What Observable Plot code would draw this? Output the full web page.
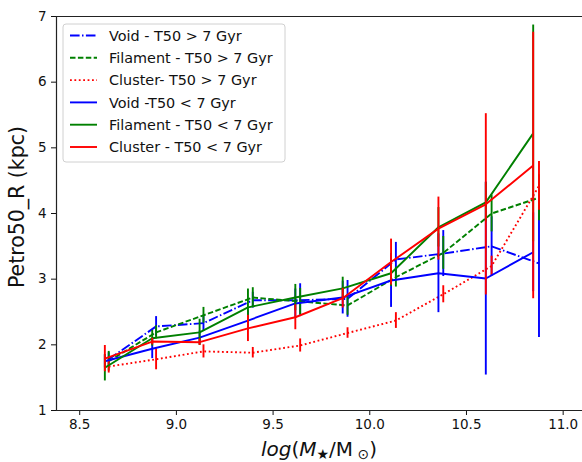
<!DOCTYPE html>
<html><head><meta charset="utf-8">
<script src="https://cdn.jsdelivr.net/npm/d3@7"></script>
<script src="https://cdn.jsdelivr.net/npm/@observablehq/plot@0.6"></script>
<style>body{margin:0;background:#fff} svg{display:block}</style>
</head><body><div id="chart"></div>
<script>
// x positions (log stellar mass bins); the T50 > 7 Gyr series sit slightly to the right
const massYoung = [8.63, 8.875, 9.12, 9.37, 9.615, 9.86, 10.11, 10.355, 10.60, 10.845];
const massOld   = [8.65, 8.895, 9.14, 9.395, 9.64, 9.885, 10.135, 10.38, 10.63, 10.875];

const voidOld      = [1.78, 2.28, 2.33, 2.68, 2.68, 2.70, 3.30, 3.39, 3.50, 3.24];
const voidOldErr   = [0.10, 0.15, 0.12, 0.12, 0.25, 0.28, 0.26, 0.35, 0.45, 1.13];
const filOld       = [1.75, 2.19, 2.45, 2.72, 2.66, 2.60, 3.03, 3.40, 4.00, 4.24];
const filOldErr    = [0.15, 0.10, 0.12, 0.15, 0.20, 0.15, 0.15, 0.25, 0.28, 0.35];
const cluOld       = [1.67, 1.78, 1.90, 1.88, 1.99, 2.18, 2.37, 2.77, 3.20, 4.42];
const cluOldErr    = [0.10, 0.16, 0.10, 0.08, 0.10, 0.08, 0.12, 0.13, 0.15, 0.37];
const voidYoung    = [1.75, 1.94, 2.11, 2.37, 2.63, 2.72, 2.98, 3.09, 3.01, 3.41];
const voidYoungErr = [0.10, 0.15, 0.10, 0.15, 0.22, 0.25, 0.41, 0.60, 1.47, 0.60];
const filYoung     = [1.65, 2.10, 2.19, 2.57, 2.72, 2.86, 3.09, 3.79, 4.17, 5.22];
const filYoungErr  = [0.20, 0.12, 0.20, 0.28, 0.20, 0.17, 0.20, 0.30, 0.30, 1.65];
const cluYoung     = [1.79, 2.05, 2.04, 2.25, 2.42, 2.71, 3.26, 3.77, 4.14, 4.73];
const cluYoungErr  = [0.20, 0.05, 0.05, 0.20, 0.19, 0.15, 0.35, 0.48, 1.38, 2.03];

const seriesNames = ["Void - T50 > 7 Gyr", "Filament - T50 > 7 Gyr", "Cluster- T50 > 7 Gyr",
                     "Void -T50 < 7 Gyr", "Filament - T50 < 7 Gyr", "Cluster - T50 < 7 Gyr"];
const xTicks = [8.5, 9.0, 9.5, 10.0, 10.5, 11.0];
const yTicks = [1, 2, 3, 4, 5, 6, 7];
const xDomain = [8.38, 11.10];
const yDomain = [1, 7];

const blue = "#0000ff", green = "#008000", red = "#ff0000";
const dashDot = "9.6,2.4,1.5,2.4", dashed = "5.5,2.4", dotted = "1.8,2.6";

const defs = [
  {name: seriesNames[0], x: massOld,   y: voidOld,   e: voidOldErr,   color: blue,  dash: dashDot},
  {name: seriesNames[1], x: massOld,   y: filOld,    e: filOldErr,    color: green, dash: dashed},
  {name: seriesNames[2], x: massOld,   y: cluOld,    e: cluOldErr,    color: red,   dash: dotted},
  {name: seriesNames[3], x: massYoung, y: voidYoung, e: voidYoungErr, color: blue,  dash: null},
  {name: seriesNames[4], x: massYoung, y: filYoung,  e: filYoungErr,  color: green, dash: null},
  {name: seriesNames[5], x: massYoung, y: cluYoung,  e: cluYoungErr,  color: red,   dash: null}
];

const marks = [];
for (const d of defs) {
  const rows = d.y.map((v, i) => ({x: d.x[i], y: v, lo: v - d.e[i], hi: v + d.e[i]}));
  marks.push(Plot.line(rows, {x: "x", y: "y", stroke: d.color, strokeWidth: 1.9,
    strokeDasharray: d.dash ?? undefined, strokeLinejoin: "round", strokeLinecap: "butt"}));
  marks.push(Plot.ruleX(rows, {x: "x", y1: "lo", y2: "hi", stroke: d.color, strokeWidth: 1.9}));
}

const chart = Plot.plot({
  width: 582, height: 462,
  marginLeft: 56, marginRight: 0, marginTop: 16, marginBottom: 52,
  style: {fontFamily: "DejaVu Sans", fontSize: "13.5px", color: "#111", background: "#fff"},
  x: {domain: xDomain, label: null},
  y: {domain: yDomain, label: null},
  marks: [
    Plot.axisX(xTicks, {tickSize: 5, tickPadding: 4, tickFormat: d3.format(".1f"), fontSize: 13.5, label: null}),
    Plot.axisY(yTicks, {tickSize: 5, tickPadding: 5, tickFormat: d3.format("d"), fontSize: 13.5, label: null}),
    ...marks,
    Plot.ruleX([xDomain[0]], {stroke: "#222", strokeWidth: 1.2}),
    Plot.ruleY(yDomain, {stroke: "#222", strokeWidth: 1.2})
  ]
});
document.getElementById("chart").appendChild(chart);

const svg = d3.select(chart);
// legend
const lg = svg.append("g").attr("font-family", "DejaVu Sans").attr("font-size", "14.4px")
  .attr("text-anchor", "start");
lg.append("rect").attr("x", 63).attr("y", 24).attr("width", 222).attr("height", 138)
  .attr("rx", 3).attr("fill", "#fff").attr("fill-opacity", 0.85).attr("stroke", "#d0d0d0");
defs.forEach((d, i) => {
  const yy = 35.5 + i * 22.3;
  lg.append("line").attr("x1", 70).attr("x2", 97).attr("y1", yy).attr("y2", yy)
    .attr("stroke", d.color).attr("stroke-width", 1.9).attr("stroke-dasharray", d.dash);
  lg.append("text").attr("x", 109).attr("y", yy).attr("dy", "0.36em").attr("fill", "#111")
    .attr("text-anchor", "start").text(d.name);
});
// axis labels
const xl = svg.append("text").attr("x", 319).attr("y", 456).attr("text-anchor", "middle")
  .attr("font-family", "DejaVu Sans").attr("font-size", "20px").attr("fill", "#111");
xl.append("tspan").attr("font-style", "italic").text("log");
xl.append("tspan").text("(");
xl.append("tspan").attr("font-style", "italic").text("M");
xl.append("tspan").attr("font-size", "14px").attr("dy", "3").text("★");
xl.append("tspan").attr("dy", "-3").text("/M");
xl.append("tspan").attr("font-size", "14px").attr("dy", "3").text(" ⊙");
xl.append("tspan").attr("dy", "-3").text(")");
svg.append("text").attr("transform", "translate(24,207) rotate(-90)").attr("text-anchor", "middle")
  .attr("font-family", "DejaVu Sans").attr("font-size", "20.5px").attr("fill", "#111")
  .text("Petro50_R (kpc)");
</script></body></html>
